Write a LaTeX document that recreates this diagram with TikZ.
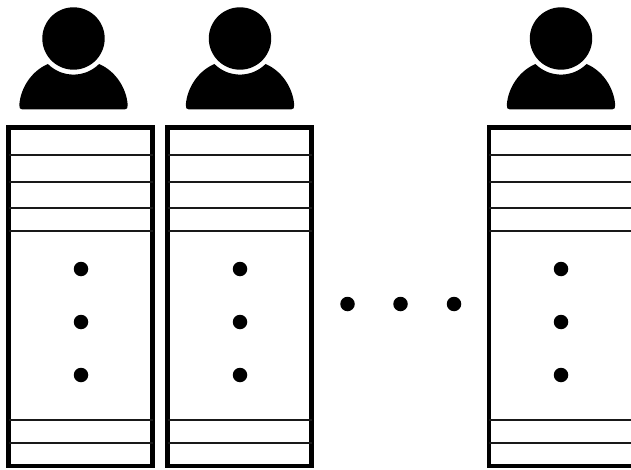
\documentclass[tikz,border=0pt]{standalone}
\tikzset{
  cellbox/.style={draw=black,line width=4.3pt,fill=white},
  rowline/.style={draw=black!90,line width=1.9pt},
  bigdot/.style={circle,fill=black,inner sep=0pt,minimum size=14.5pt},
  headshape/.style={fill=black},
  bodyshape/.style={fill=black}
}
\newcommand{\personfig}[1]{%
  \begin{scope}[shift={(#1,469)}]
    \fill[headshape] (0,-38.5) circle[radius=31.2];
    \fill[bodyshape] (-25.6,-64) arc[start angle=225,end angle=315,radius=36.2]
      .. controls (42,-71) and (53,-88) .. (54.2,-105)
      .. controls (54.4,-108) and (53.5,-109.5) .. (51,-109.5)
      -- (-51,-109.5)
      .. controls (-53.5,-109.5) and (-54.4,-108) .. (-54.2,-105)
      .. controls (-53,-88) and (-42,-71) .. (-25.6,-64) -- cycle;
  \end{scope}}
\newcommand{\columnfig}[4]{% left, right, dot x, name
  \draw[cellbox] (#1,469-127.5) rectangle (#2,469-466.3);
  \foreach \yy in {155,182,207.7,230.7,420,443.3}
    \draw[rowline] (#1,469-\yy) -- (#2,469-\yy);
  \foreach \yy/\nn in {269/a,322/b,375/c}
    \node[bigdot] (#4\nn) at (#3,469-\yy) {};}
\begin{document}
\begin{tikzpicture}[x=1pt,y=1pt]
\useasboundingbox (0,0) rectangle (631,469);
\clip (0,0) rectangle (631,469);
\columnfig{8.5}{152.5}{81}{p}
\columnfig{167.5}{311.6}{240}{q}
\columnfig{489.2}{633.5}{561}{r}
\personfig{73.5}
\personfig{240}
\personfig{561}
\node[bigdot] (h1) at (347.5,469-304) {};
\node[bigdot] (h2) at (400.5,469-304) {};
\node[bigdot] (h3) at (454,469-304) {};
\end{tikzpicture}
\end{document}
